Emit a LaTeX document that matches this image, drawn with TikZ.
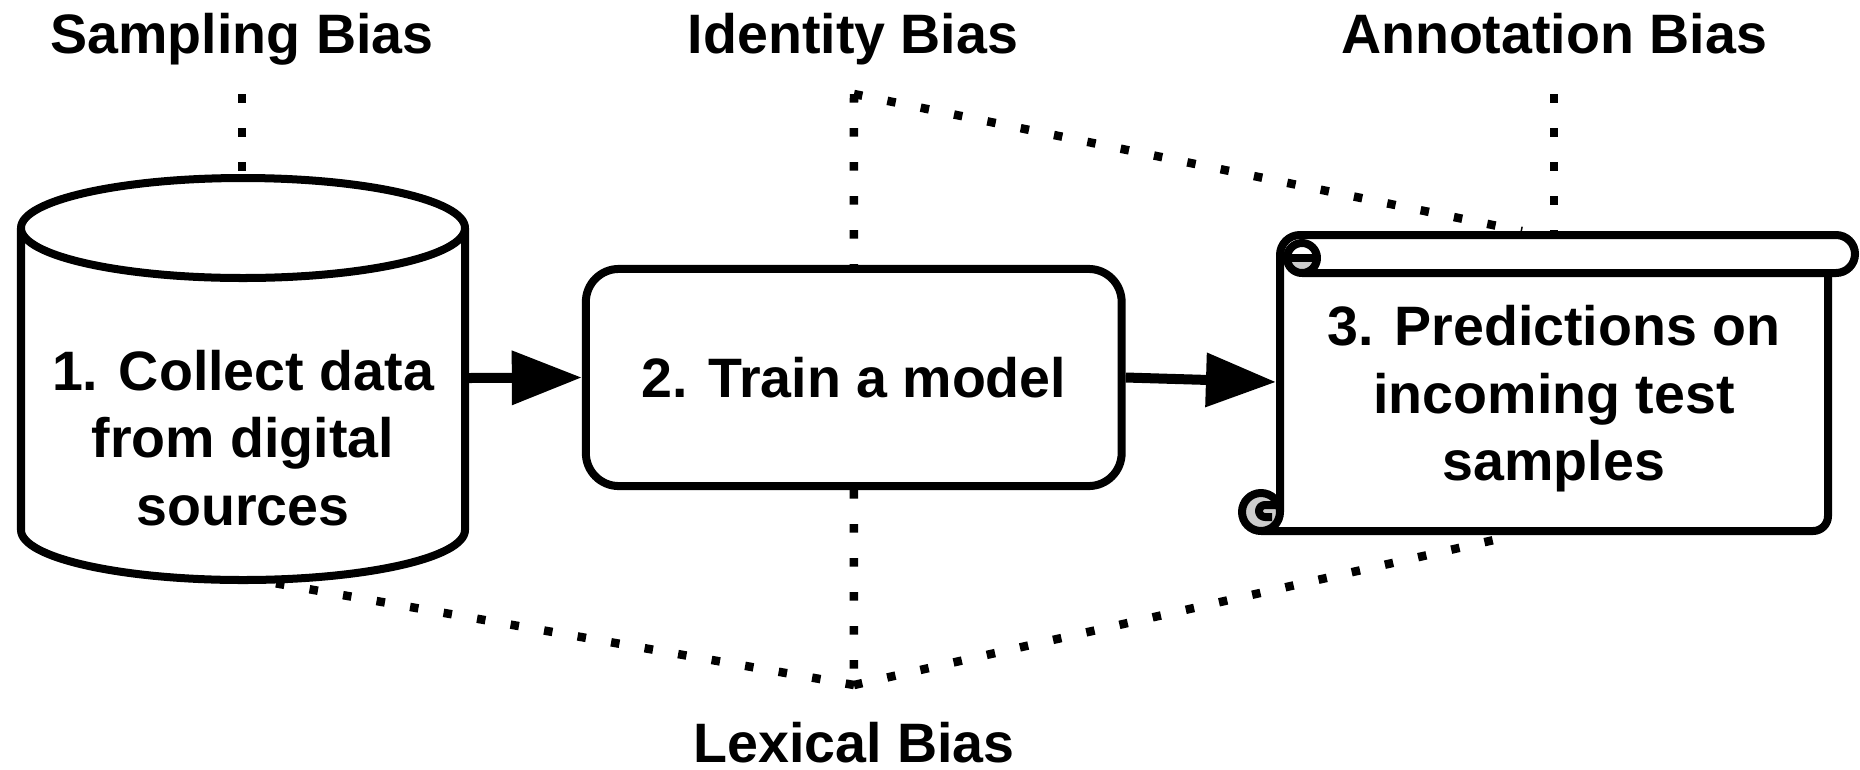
\documentclass[tikz,border=0pt]{standalone}
\usepackage{fontspec}
\setmainfont{Liberation Sans}
\usetikzlibrary{arrows.meta}
\newcommand\diagfont{\fontsize{15.8pt}{19.2pt}\selectfont\bfseries}

\begin{document}
\begin{tikzpicture}[x=0.01cm, y=0.01cm, line join=round,
  outline/.style={draw=black, line width=0.08cm},
  dotline/.style={draw=black, line width=0.085cm, dash pattern=on 0.085cm off 0.255cm},
  flow/.style={draw=black, line width=0.1cm, -{Triangle[length=0.7cm, width=0.52cm]}},
  caption/.style={font=\diagfont, anchor=base, inner sep=0pt},
  bodytext/.style={font=\diagfont, align=center, inner sep=0pt},
  curlfill/.style={fill=gray!40}]

\useasboundingbox (0,0) rectangle (1860,-769);

% --- bias labels ---
\node[caption] (sampling)   at (242,-53)  {Sampling Bias};
\node[caption] (identity)   at (853,-53)  {Identity Bias};
\node[caption] (annotation) at (1554,-53) {Annotation Bias};
\node[caption] (lexical)    at (854,-762) {Lexical Bias};

% attachment points of the dotted leaders
\coordinate (samplingP)   at (242,-94);
\coordinate (identityP)   at (854,-94);
\coordinate (annotationP) at (1554,-94);
\coordinate (lexicalP)    at (854,-685);
\coordinate (dbTop)    at (242,-174);
\coordinate (dbEast)   at (469,-378);
\coordinate (dbFoot)   at (274,-583);
\coordinate (predWest) at (1276,-382);
\coordinate (predTopL) at (1522,-231);
\coordinate (predTopR) at (1554,-231);
\coordinate (predFoot) at (1516,-535);

% --- step 2: training box ---
\node[outline, fill=white, rounded corners=0.33cm, minimum width=5.355cm,
      minimum height=2.17cm, inner sep=0pt, font=\diagfont]
      (train) at (853.75,-377.5) {2. Train a model};

% --- dotted leaders ---
\draw[dotline] (samplingP) -- (dbTop);
\draw[dotline] (identityP) -- (train.north);
\draw[dotline] (identityP) -- (predTopL);
\draw[dotline] (annotationP) -- (predTopR);
\draw[dotline] (train.south) -- (lexicalP);
\draw[dotline] (lexicalP) -- (dbFoot);
\draw[dotline] (lexicalP) -- (predFoot);

% --- step 1: database cylinder ---
\draw[outline, fill=white] (21,-228) -- (21,-530)
  arc[start angle=180, end angle=360, x radius=222, y radius=50] -- (465,-228);
\draw[outline, fill=white] (243,-228) ellipse[x radius=222, y radius=50];
\node[bodytext] (db) at (243,-438) {1. Collect data\\from digital\\sources};

% --- step 3: scroll ---
\fill[white] (1280,-235) rectangle (1828,-531);
\fill[white] (1300,-235) rectangle (1836,-273);
\draw[outline] (1280,-512) -- (1280,-255)
  arc[start angle=180, end angle=90, radius=20] -- (1836,-235)
  arc[start angle=90, end angle=-90, radius=19] -- (1302,-273);
\draw[outline] (1828,-273) -- (1828,-516)
  arc[start angle=0, end angle=-90, radius=15] -- (1261,-531);
% upper curl
\fill[white] (1302,-258) circle[radius=15];
\fill[curlfill] (1288,-258) arc[start angle=180, end angle=360, radius=14] -- cycle;
\draw[outline] (1302,-258) circle[radius=15];
\draw[outline] (1287,-258) -- (1317,-258);
% lower curl
\draw[outline, curlfill] (1261,-512) circle[radius=19];
\draw[outline] (1277,-505) -- (1265,-505)
  arc[start angle=90, end angle=270, radius=6] -- (1272,-517);
\node[bodytext] (pred) at (1554,-399) {3. Predictions on\\incoming test\\samples};

% --- flow arrows ---
\draw[flow] (dbEast) -- (train.west);
\draw[flow] (train.east) -- (predWest);

\end{tikzpicture}
\end{document}
